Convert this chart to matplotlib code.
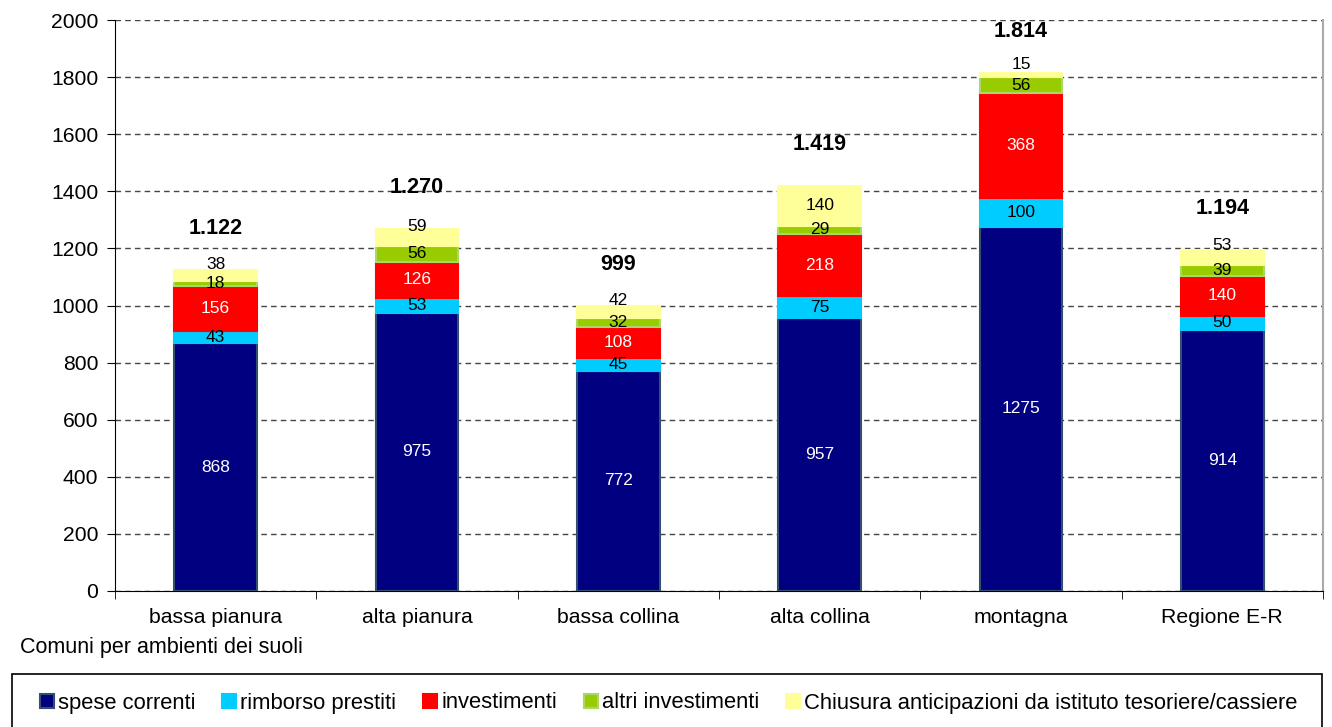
import matplotlib
matplotlib.use("Agg")
import matplotlib.pyplot as plt
from matplotlib.patches import Rectangle
import numpy as np

plt.rcParams['font.family'] = ['Liberation Sans', 'DejaVu Sans']

categories = ["bassa pianura", "alta pianura", "bassa collina", "alta collina", "montagna", "Regione E-R"]
spese_correnti = [868, 975, 772, 957, 1275, 914]
rimborso_prestiti = [43, 53, 45, 75, 100, 50]
investimenti = [156, 126, 108, 218, 368, 140]
altri_investimenti = [18, 56, 32, 29, 56, 39]
chiusura_anticipazioni = [38, 59, 42, 140, 15, 53]
total_labels = ["1.122", "1.270", "999", "1.419", "1.814", "1.194"]
yticks = [0, 200, 400, 600, 800, 1000, 1200, 1400, 1600, 1800, 2000]

series = [
    ("spese correnti", spese_correnti, "#000080", "#34506E", "white"),
    ("rimborso prestiti", rimborso_prestiti, "#00CCFF", "#00CCFF", "black"),
    ("investimenti", investimenti, "#FF0000", "#FF0000", "white"),
    ("altri investimenti", altri_investimenti, "#99CC00", "#A8D86A", "black"),
    ("Chiusura anticipazioni da istituto tesoriere/cassiere", chiusura_anticipazioni, "#FFFF99", "#FFFF99", "black"),
]

W, H = 1332, 727
fig = plt.figure(figsize=(W / 100, H / 100), dpi=100)
ax = fig.add_axes([115 / W, 1 - 591 / H, (1323 - 115) / W, (591 - 20) / H])

x = np.arange(len(categories))
width = 0.41
bottom = np.zeros(len(categories))
handles = []
n_series = len(series)
for si, (name, vals, col, ec, tc) in enumerate(series):
    vals = np.array(vals, dtype=float)
    b = ax.bar(x, vals, width, bottom=bottom, color=col, edgecolor=ec, linewidth=1.5, label=name, zorder=3)
    handles.append(b)
    for xi, v, bt in zip(x, vals, bottom):
        dy = 8 if (si == n_series - 1 and v < 100) else 0
        ax.annotate(f"{int(v)}", (xi, bt + v / 2), xytext=(0, dy), textcoords="offset points",
                    ha="center", va="center", color=tc, fontsize=12.5, zorder=4)
    bottom += vals

for xi, tot, lab in zip(x, bottom, total_labels):
    ax.text(xi, tot + 145, lab, ha="center", va="center", fontsize=15.5, fontweight="bold", color="black", zorder=4)

ax.set_xlim(-0.5, len(categories) - 0.5)
ax.set_ylim(0, 2000)
ax.set_yticks(yticks)
ax.set_yticklabels([str(t) for t in yticks], fontsize=15.2)
ax.set_xticks(x)
ax.set_xticklabels(categories, fontsize=15.3)
ax.set_xticks(np.arange(-0.5, len(categories)), minor=True)
ax.tick_params(axis="x", which="major", length=0, pad=12)
ax.tick_params(axis="x", which="minor", length=6, direction="out", color="black")
ax.tick_params(axis="y", length=6, direction="out", pad=6)
ax.yaxis.grid(True, linestyle=(0, (4, 3)), color="#444444", linewidth=1.0, zorder=0)
ax.set_axisbelow(True)
ax.spines["top"].set_visible(False)
ax.spines["right"].set_color("#AAAAAA")
ax.spines["right"].set_linewidth(1.5)
ax.spines["left"].set_color("black")
ax.spines["bottom"].set_color("black")

fig.text(20 / W, 1 - 648 / H, "Comuni per ambienti dei suoli", ha="left", va="center", fontsize=15.5)

fig.patches.append(Rectangle((12 / W, -0.05), (1322 - 12) / W, 0.05 + (727 - 674) / H,
                             transform=fig.transFigure, fill=False, edgecolor="black", linewidth=1.2))

leg = fig.legend(handles=handles, loc="center", bbox_to_anchor=(668.5 / W, 1 - 703 / H),
                 ncol=5, frameon=False, fontsize=15.8,
                 handlelength=0.64, handleheight=0.64, handletextpad=0.18, columnspacing=1.23)

fig.savefig("out.png", dpi=100)
